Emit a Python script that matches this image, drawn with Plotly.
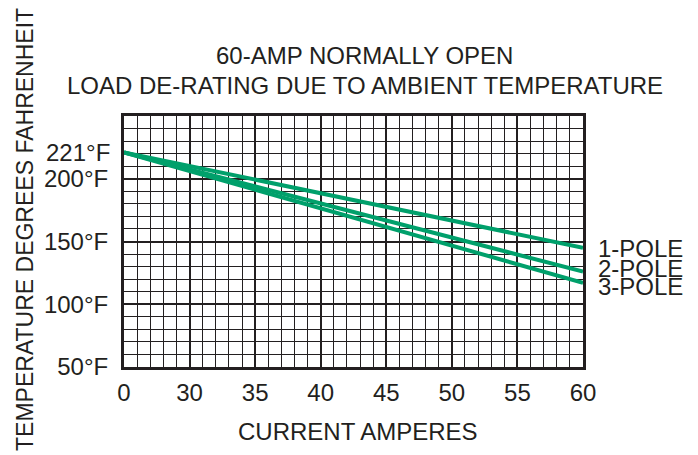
import plotly.graph_objects as go

# ---- data ----
tick_amps = [0, 30, 35, 40, 45, 50, 55, 60]
tick_labels = ["0", "30", "35", "40", "45", "50", "55", "60"]
temp_ticks = [50, 100, 150, 200]
temp_tick_labels = ["50°F", "100°F", "150°F", "200°F"]
start_temp = 221
series_names = ["1-POLE", "2-POLE", "3-POLE"]
series_amps = [0, 60]
pole1_temps = [221, 145]
pole2_temps = [221, 126]
pole3_temps = [221, 117]

FONT = "Liberation Sans, Arial, Helvetica, sans-serif"
INK = "#231f20"
GREEN = "#00a06b"
FS = 24

def pos(a):
    return tick_amps.index(a)

fig = go.Figure()
for name, temps in zip(series_names, [pole1_temps, pole2_temps, pole3_temps]):
    fig.add_trace(go.Scatter(
        x=[pos(a) for a in series_amps], y=temps, mode="lines", name=name,
        line=dict(color=GREEN, width=4), showlegend=False, cliponaxis=False))

label_shift = [-1, 3, -4]
for name, temps, ys in zip(series_names, [pole1_temps, pole2_temps, pole3_temps], label_shift):
    fig.add_annotation(x=pos(series_amps[-1]), y=temps[-1], xref="x", yref="y",
                       text=name, showarrow=False, xanchor="left", yanchor="middle",
                       xshift=13, yshift=ys, font=dict(family=FONT, size=FS, color=INK))

# 221 label
fig.add_annotation(x=0, y=start_temp, xref="paper", yref="y", text=f"{start_temp}°F",
                   showarrow=False, xanchor="right", yanchor="middle", xshift=-12,
                   font=dict(family=FONT, size=FS, color=INK))

# titles
fig.add_annotation(x=0.525, y=1.243, xref="paper", yref="paper", text="60-AMP NORMALLY OPEN",
                   showarrow=False, xanchor="center", yanchor="middle",
                   font=dict(family=FONT, size=FS, color=INK))
fig.add_annotation(x=0.525, y=1.1235, xref="paper", yref="paper",
                   text="LOAD DE-RATING DUE TO AMBIENT TEMPERATURE",
                   showarrow=False, xanchor="center", yanchor="middle",
                   font=dict(family=FONT, size=FS, color=INK))
fig.add_annotation(x=0.51, y=-0.255, xref="paper", yref="paper", text="CURRENT AMPERES",
                   showarrow=False, xanchor="center", yanchor="middle",
                   font=dict(family=FONT, size=FS, color=INK))
fig.add_annotation(x=-0.2157, y=0.55, xref="paper", yref="paper",
                   text="TEMPERATURE DEGREES FAHRENHEIT", textangle=-90,
                   showarrow=False, xanchor="center", yanchor="middle",
                   font=dict(family=FONT, size=23, color=INK))

fig.update_layout(
    width=698, height=455,
    margin=dict(l=116, r=123, t=108, b=96),
    paper_bgcolor="white", plot_bgcolor="white",
    font=dict(family=FONT, size=FS, color=INK),
    showlegend=False,
    xaxis=dict(
        range=[0, len(tick_amps) - 1], tickmode="array",
        tickvals=list(range(len(tick_amps))), ticktext=tick_labels,
        showgrid=True, gridcolor=INK, gridwidth=2,
        minor=dict(dtick=0.2, tick0=0, showgrid=True, gridcolor=INK, gridwidth=1.3),
        showline=True, linecolor=INK, linewidth=3, mirror=True,
        ticks="", ticklabelstandoff=2, zeroline=False,
        tickfont=dict(family=FONT, size=FS, color=INK),
    ),
    yaxis=dict(
        range=[50, 250], tickmode="array",
        tickvals=temp_ticks + [250], ticktext=temp_tick_labels + [""],
        showgrid=True, gridcolor=INK, gridwidth=2,
        minor=dict(dtick=10, tick0=50, showgrid=True, gridcolor=INK, gridwidth=1.3),
        showline=True, linecolor=INK, linewidth=3, mirror=True,
        ticks="", ticklabelstandoff=8, zeroline=False,
        tickfont=dict(family=FONT, size=FS, color=INK),
    ),
)

fig.write_html("out.html")
